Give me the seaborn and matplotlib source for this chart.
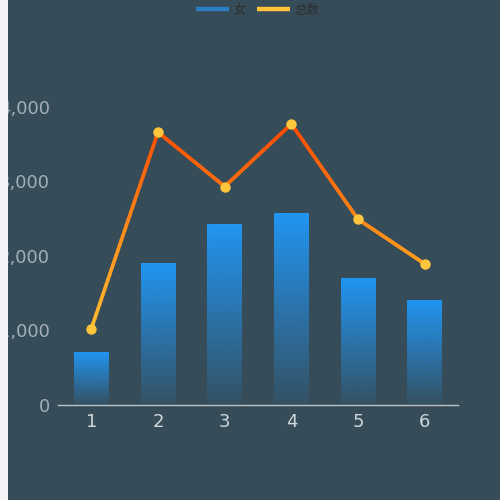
import numpy as np
import pandas as pd
import matplotlib
matplotlib.use("Agg")
import matplotlib.pyplot as plt
import seaborn as sns
from matplotlib.collections import LineCollection
from matplotlib.colors import LinearSegmentedColormap, to_rgb
from matplotlib.lines import Line2D
from matplotlib.patches import Rectangle

# ---- data ----
categories = ["1", "2", "3", "4", "5", "6"]
female = [700, 1900, 2430, 2580, 1700, 1410]
total = [1020, 3660, 2930, 3770, 2490, 1890]
y_ticks = [0, 1000, 2000, 3000, 4000]
legend_labels = ["女", "总数"]

BG = "#364c58"
sns.set_theme(style="white")
plt.rcParams["font.family"] = ["Noto Sans CJK SC", "DejaVu Sans"]

df = pd.DataFrame({"month": categories, "female": female, "total": total})

fig = plt.figure(figsize=(5, 5), dpi=100, facecolor=BG)
ax = fig.add_axes([58 / 500, 95.5 / 500, 400 / 500, 372 / 500])
ax.set_facecolor(BG)

sns.barplot(data=df, x="month", y="female", width=0.52, color="#2196f3",
            errorbar=None, ax=ax, zorder=2)

# vertical gradient on each bar
grad = np.linspace(1, 0, 256).reshape(-1, 1)
rgb = np.array(to_rgb("#2196f3"))
for p in list(ax.patches):
    x0, y0 = p.get_x(), p.get_y()
    w, h = p.get_width(), p.get_height()
    img = np.zeros((256, 1, 4))
    img[..., :3] = rgb
    img[..., 3] = 0.08 + 0.92 * grad
    im = ax.imshow(img, extent=[x0, x0 + w, y0, y0 + h], aspect="auto",
                   origin="upper", zorder=2, interpolation="bilinear")
    im.set_clip_path(p)
    p.set_facecolor("none")
    p.set_edgecolor("none")

sns.pointplot(data=df, x="month", y="total", color="#ffc23a", errorbar=None,
              markers="o", markersize=7.5, linewidth=2.6, ax=ax)

line = ax.lines[-1]
xs = np.asarray(line.get_xdata(), dtype=float)
ys = np.asarray(line.get_ydata(), dtype=float)
line.set_linestyle("None")
line.set_zorder(5)
line.set_markeredgewidth(0)
line.set_markerfacecolor("#ffc53d")

cmap = LinearSegmentedColormap.from_list("lg", ["#ffbd30", "#ff8a18", "#ff4a00"])
segs, cols = [], []
ymin, ymax = ys.min(), ys.max()
for i in range(len(xs) - 1):
    t = np.linspace(0, 1, 41)
    px = xs[i] + (xs[i + 1] - xs[i]) * t
    py = ys[i] + (ys[i + 1] - ys[i]) * t
    for j in range(len(t) - 1):
        segs.append([(px[j], py[j]), (px[j + 1], py[j + 1])])
        cols.append(cmap(((py[j] + py[j + 1]) / 2 - ymin) / (ymax - ymin)))
lc = LineCollection(segs, colors=cols, linewidths=2.6, capstyle="round",
                    joinstyle="round", zorder=4)
ax.add_collection(lc)

ax.set_xlim(-0.5, 5.5)
ax.set_ylim(0, 5000)
ax.set_yticks(y_ticks)
ax.set_yticklabels([f"{v:,}" for v in y_ticks])
ax.set_xlabel("")
ax.set_ylabel("")
for s in ["top", "right", "left"]:
    ax.spines[s].set_visible(False)
ax.spines["bottom"].set_color("#b8c2c8")
ax.spines["bottom"].set_linewidth(1)
ax.tick_params(axis="y", length=0, pad=6, labelsize=13, labelcolor="#a3afb6")
ax.tick_params(axis="x", length=0, pad=6, labelsize=13, labelcolor="#d0d7db")
for lab in ax.get_xticklabels() + ax.get_yticklabels():
    lab.set_fontfamily("DejaVu Sans")
ax.grid(False)

handles = [Line2D([0], [0], color="#2a7fc4", lw=3.2, solid_capstyle="butt"),
           Line2D([0], [0], color="#ffc23a", lw=3.2, solid_capstyle="butt")]
fig.legend(handles, legend_labels, loc="center", bbox_to_anchor=(258 / 500, 1 - 10 / 500),
           ncol=2, frameon=False, fontsize=9, labelcolor="#2e2e2e",
           handlelength=2.6, handletextpad=0.4, columnspacing=0.9)

fig.patches.append(Rectangle((0, 0), 8 / 500, 1, transform=fig.transFigure,
                             facecolor="#f2f3f7", edgecolor="none", zorder=10))

fig.savefig("out.png", dpi=100, facecolor=BG)
